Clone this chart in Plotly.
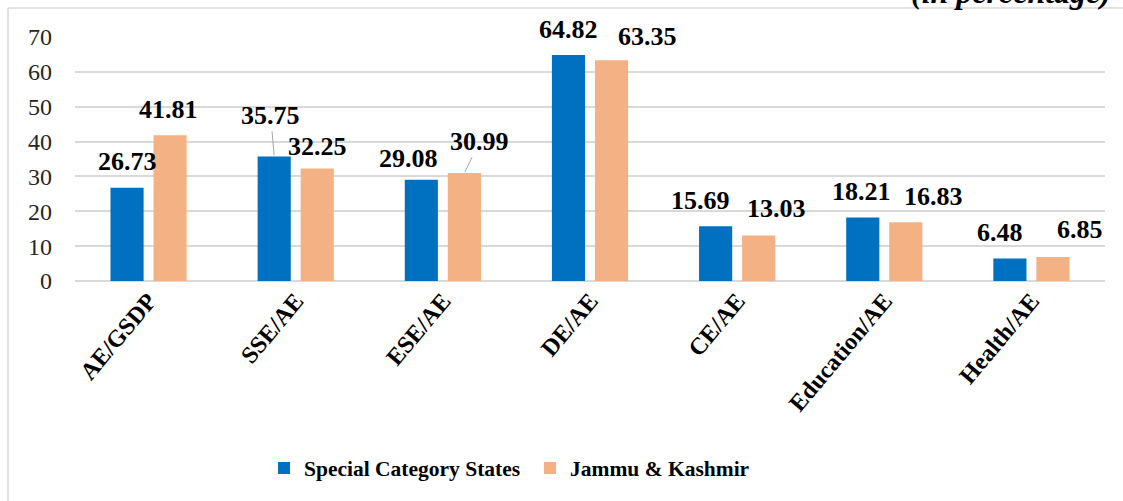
import plotly.graph_objects as go

categories = ["AE/GSDP", "SSE/AE", "ESE/AE", "DE/AE", "CE/AE", "Education/AE", "Health/AE"]
scs_values = [26.73, 35.75, 29.08, 64.82, 15.69, 18.21, 6.48]
jk_values = [41.81, 32.25, 30.99, 63.35, 13.03, 16.83, 6.85]
series_names = ["Special Category States", "Jammu & Kashmir"]
y_ticks = [0, 10, 20, 30, 40, 50, 60, 70]

# label placement styling (pixel offsets: dx, dy, leader line flag)
scs_label_style = [(0, 26, False), (-3.5, 41, True), (-13, 21.5, False), (0, 26, False),
                   (-15, 25.5, False), (-1, 26, False), (-10, 25.5, False)]
jk_label_style = [(-1.5, 26, False), (0, 22.5, False), (15.5, 31.5, True), (36, 24, False),
                  (18, 27, False), (28, 26, False), (27, 28, False)]

W, H = 1123, 501
ML, MR, MT, MB = 75, 18, 37, 220
plot_w = W - ML - MR
plot_h = H - MT - MB
BARGAP = 0.415
BARGROUPGAP = 0.23
slot = (1 - BARGAP) * (plot_w / len(categories)) / 2
half = slot / 2

FONT = "Liberation Serif"
BLUE = "#0070C0"
ORANGE = "#F4B183"
GRID = "#d9d9d9"


def px_x(p):
    return (p - ML) / plot_w


def px_y(p):
    return (MT + plot_h - p) / plot_h


fig = go.Figure()
fig.add_trace(go.Bar(x=categories, y=scs_values, name=series_names[0],
                     marker=dict(color=BLUE, line=dict(width=0))))
fig.add_trace(go.Bar(x=categories, y=jk_values, name=series_names[1],
                     marker=dict(color=ORANGE, line=dict(width=0))))

annotations = []
for vals, styles, sign in ((scs_values, scs_label_style, -1), (jk_values, jk_label_style, 1)):
    for cat, v, (dx, dy, leader) in zip(categories, vals, styles):
        base = dict(x=cat, y=v, xref="x", yref="y", text=f"{v:.2f}",
                    font=dict(family=FONT, size=26, color="#000000", weight="bold"))
        if leader:
            base.update(showarrow=True, arrowhead=0, arrowwidth=1, arrowcolor="#a6a6a6",
                        ax=dx, ay=-dy, xshift=sign * half, standoff=1)
        else:
            base.update(showarrow=False, xshift=sign * half + dx, yshift=dy,
                        yanchor="middle", xanchor="center")
        annotations.append(base)

annotations.append(dict(text="(in percentage)", xref="paper", yref="paper",
                        x=px_x(1113), y=px_y(12),
                        xanchor="right", yanchor="bottom", showarrow=False,
                        font=dict(family=FONT, size=32, color="#000000",
                                  weight="bold", style="italic")))

shapes = [
    dict(type="line", xref="paper", yref="paper", x0=px_x(8), x1=px_x(1130),
         y0=px_y(8), y1=px_y(8), line=dict(color=GRID, width=1.5)),
    dict(type="line", xref="paper", yref="paper", x0=px_x(8), x1=px_x(8),
         y0=px_y(8), y1=px_y(510), line=dict(color=GRID, width=1.5)),
]

fig.update_layout(
    width=W, height=H,
    margin=dict(l=ML, r=MR, t=MT, b=MB, autoexpand=False),
    paper_bgcolor="white", plot_bgcolor="white",
    barmode="group", bargap=BARGAP, bargroupgap=BARGROUPGAP,
    font=dict(family=FONT, color="#000000"),
    showlegend=True,
    legend=dict(orientation="h", x=px_x(264), xanchor="left", y=px_y(468), yanchor="middle",
                entrywidth=221, entrywidthmode="pixels",
                font=dict(family=FONT, size=21.5, color="#000000", weight="bold"),
                bgcolor="rgba(0,0,0,0)"),
    xaxis=dict(type="category", tickangle=-50, showgrid=False, showline=False,
               ticks="", tickfont=dict(family=FONT, size=24, color="#000000", weight="bold")),
    yaxis=dict(range=[0, 70], tickvals=y_ticks, showgrid=True, gridcolor=GRID, gridwidth=1.5,
               zeroline=True, zerolinecolor=GRID, zerolinewidth=1.5, showline=False,
               ticks="", ticklabelstandoff=22,
               tickfont=dict(family=FONT, size=24, color="#262626")),
    annotations=annotations,
    shapes=shapes,
)

fig.write_html("out.html")
